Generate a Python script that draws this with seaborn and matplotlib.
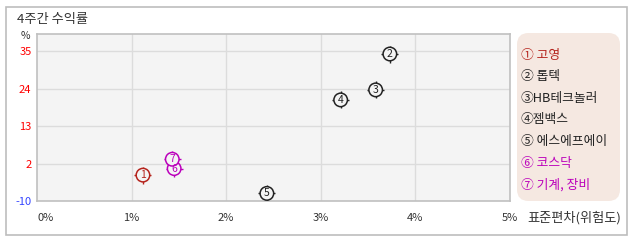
import matplotlib
matplotlib.use("Agg")
import matplotlib.pyplot as plt
import seaborn as sns
import pandas as pd
from matplotlib.patches import Rectangle, FancyBboxPatch

# ---- data ----
labels = ["① 고영", "② 톱텍", "③HB테크놀러", "④젬백스", "⑤ 에스에프에이", "⑥ 코스닥", "⑦ 기계, 장비"]
marks = ["1", "2", "3", "4", "5", "6", "7"]
std_pct = [1.12, 3.73, 3.58, 3.21, 2.43, 1.45, 1.43]
ret_4w = [-1.1, 34.0, 23.6, 20.7, -6.4, 0.8, 3.5]
point_colors = ["#b5231c", "#222222", "#222222", "#222222", "#222222", "#bb00bb", "#bb00bb"]
x_ticks = [0, 1, 2, 3, 4, 5]
x_tick_labels = ["0%", "1%", "2%", "3%", "4%", "5%"]
y_ticks = [-8.6, 2, 13, 24, 35]
y_tick_labels = ["-10", "2", "13", "24", "35"]
y_tick_colors = ["#3344ff", "#ff0000", "#ff0000", "#ff0000", "#ff0000"]

df = pd.DataFrame({"name": labels, "x": std_pct, "y": ret_4w, "c": point_colors, "m": marks})

sns.set_style("white")
plt.rcParams["font.family"] = ["Noto Sans CJK KR", "DejaVu Sans"]

W, H = 638, 242
fig = plt.figure(figsize=(W / 100, H / 100), dpi=100)

def fx(px):
    return px / W

def fy(py):
    return 1 - py / H

# outer border
fig.patches.append(Rectangle((fx(6), fy(235)), fx(621), (235 - 7) / H, transform=fig.transFigure,
                             fill=False, edgecolor="#bdbdbd", linewidth=1.2))

ax = fig.add_axes([fx(37), fy(201), fx(510 - 37), (201 - 34) / H])
ax.set_facecolor("#f4f4f4")
ax.set_xlim(0, 5)
ax.set_ylim(-8.6, 39.8)
ax.set_xticks(x_ticks)
ax.set_yticks(y_ticks)
ax.set_xticklabels([])
ax.set_yticklabels(y_tick_labels, fontsize=8)
for t, c in zip(ax.get_yticklabels(), y_tick_colors):
    t.set_color(c)
ax.tick_params(length=0, pad=4)
for x in x_ticks[1:-1]:
    ax.axvline(x, color="#dcdcdc", lw=1, zorder=0)
for y in y_ticks[1:]:
    ax.axhline(y, color="#dcdcdc", lw=1, zorder=0)
for s in ax.spines.values():
    s.set_color("#c0c0c0")
    s.set_linewidth(1.2)

# x tick labels
for x, lab in zip(x_ticks, x_tick_labels):
    ax.text(x, -0.1, lab, transform=ax.get_xaxis_transform(), ha="left" if x == 0 else "center",
            va="center", fontsize=8, color="#333333")

# points: crosshair ticks, circle, number
pal = dict(zip(df["name"], df["c"]))
sns.scatterplot(data=df, x="x", y="y", hue="name", palette=pal, marker="+", s=150,
                linewidth=1.0, legend=False, ax=ax, zorder=3)
sns.scatterplot(data=df, x="x", y="y", hue="name", palette=pal, marker="o", s=95,
                legend=False, ax=ax, zorder=4)
ax.collections[-1].set_facecolor("#f4f4f4")
ax.collections[-1].set_edgecolor(df["c"].tolist())
ax.collections[-1].set_linewidth(1.1)
for _, r in df.iterrows():
    ax.text(r["x"], r["y"], r["m"], color=r["c"], ha="center", va="center", fontsize=7.5, zorder=5)
ax.set_xlabel("")
ax.set_ylabel("")

# title and axis labels
fig.text(fx(17), fy(20), "4주간 수익률", fontsize=9.5, va="center", ha="left", color="#333333")
fig.text(fx(25.5), fy(36), "%", fontsize=7.5, va="center", ha="center", color="#333333")
fig.text(fx(527), fy(218), "표준편차(위험도)", fontsize=9.5, va="center", ha="left", color="#333333")

# legend box
fig.patches.append(FancyBboxPatch((fx(517), fy(201)), fx(103), (201 - 33) / H,
                                  boxstyle="round,pad=0,rounding_size=0.018",
                                  transform=fig.transFigure, facecolor="#f5e8e1",
                                  edgecolor="none", mutation_aspect=W / H))
leg_colors = ["#b5231c", "#222222", "#222222", "#222222", "#222222", "#bb00bb", "#bb00bb"]
for i, (lab, c) in enumerate(zip(labels, leg_colors)):
    fig.text(fx(521), fy(55 + i * 21.6), lab, fontsize=9.2, color=c, va="center", ha="left")

fig.savefig("out.png", dpi=100)
